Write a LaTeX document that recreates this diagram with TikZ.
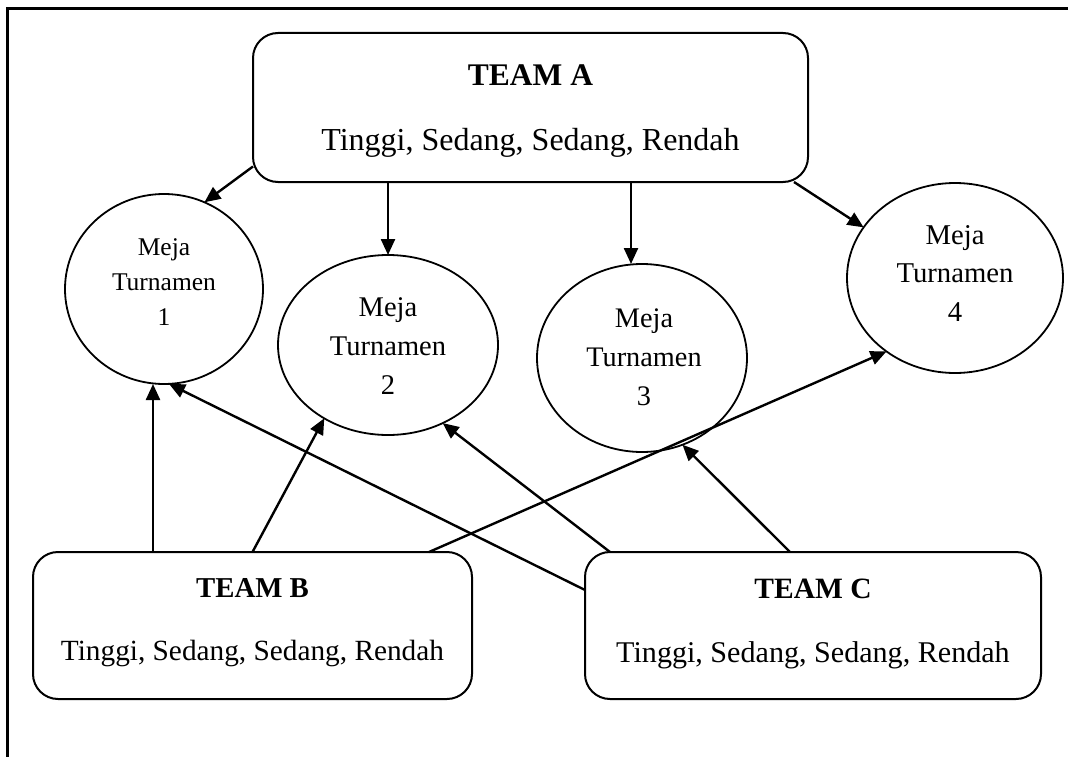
\documentclass[tikz,border=0pt]{standalone}
\usepackage{fontspec}
\setmainfont{Liberation Serif}
\usetikzlibrary{shapes.geometric,arrows.meta}
\begin{document}
\begin{tikzpicture}[x=1pt,y=-1pt,
  teambox/.style={draw, line width=2pt, rounded corners=25pt, inner sep=0pt, outer sep=0pt},
  meja/.style={draw, ellipse, line width=1.8pt, inner sep=0pt, outer sep=0pt},
  mejatext/.style={align=center, inner sep=0pt},
  lbl/.style={anchor=base, inner sep=0pt},
  arr/.style={line width=2.4pt, -{Triangle[length=16pt,width=14pt]}},
  frameline/.style={line width=3pt}
]
\useasboundingbox (0,0) rectangle (1068,757);
\draw[frameline] (7,757) -- (7,9) -- (1068,9);

% Team boxes
\node[teambox, minimum width=555pt, minimum height=149pt] (A) at (530.5,107.5) {};
\node[teambox, minimum width=439pt, minimum height=147pt] (B) at (252.5,625.5) {};
\node[teambox, minimum width=456pt, minimum height=147pt] (C) at (813,625.5) {};

\node[lbl, font=\fontsize{31.5}{36}\selectfont\bfseries] (Atitle) at (530.5,85.5) {TEAM A};
\node[lbl, font=\fontsize{32}{36}\selectfont] (Atext) at (530.5,150) {Tinggi, Sedang, Sedang, Rendah};
\node[lbl, font=\fontsize{28.8}{34}\selectfont\bfseries] (Btitle) at (252.5,597) {TEAM B};
\node[lbl, font=\fontsize{29.3}{34}\selectfont] (Btext) at (252.5,660) {Tinggi, Sedang, Sedang, Rendah};
\node[lbl, font=\fontsize{29.5}{34}\selectfont\bfseries] (Ctitle) at (813,598) {TEAM C};
\node[lbl, font=\fontsize{30.1}{34}\selectfont] (Ctext) at (813,662) {Tinggi, Sedang, Sedang, Rendah};

% Tables
\node[meja, minimum width=198pt, minimum height=190pt] (M1) at (164,289) {};
\node[meja, minimum width=220pt, minimum height=180pt] (M2) at (388,345) {};
\node[meja, minimum width=210pt, minimum height=188pt] (M3) at (642,358) {};
\node[meja, minimum width=216pt, minimum height=190pt] (M4) at (955,278) {};

\node[mejatext, font=\fontsize{25.5}{35}\selectfont] (t1) at (164,282) {Meja\\Turnamen\\1};
\node[mejatext, font=\fontsize{28.5}{39}\selectfont] (t2) at (388,346) {Meja\\Turnamen\\2};
\node[mejatext, font=\fontsize{28.3}{39}\selectfont] (t3) at (644,357) {Meja\\Turnamen\\3};
\node[mejatext, font=\fontsize{28.7}{38.5}\selectfont] (t4) at (955,273) {Meja\\Turnamen\\4};

\coordinate (m3top) at ([xshift=-11pt]M3.north);
\coordinate (m1bot) at ([xshift=-11pt]M1.south);

% Team A
\draw[arr] (A.192.9) -- (M1.65);
\draw[arr] (A.south -| M2.north) -- (M2.north);
\draw[arr] (m3top |- A.south) -- (m3top);
\draw[arr] ([xshift=-14pt]A.south east) -- (M4.151.3);
% Team B
\draw[arr] (m1bot |- B.north) -- (m1bot);
\draw[arr] (B.north) -- (M2.229.8);
\draw[arr] ([xshift=176.5pt]B.north) -- (M4.227.4);
% Team C
\draw[arr] ([yshift=35.5pt]C.west) -- (M1.273.5);
\draw[arr] ([xshift=-203pt]C.north) -- (M2.305.5);
\draw[arr] ([xshift=-23pt]C.north) -- (M3.295);
\end{tikzpicture}
\end{document}
